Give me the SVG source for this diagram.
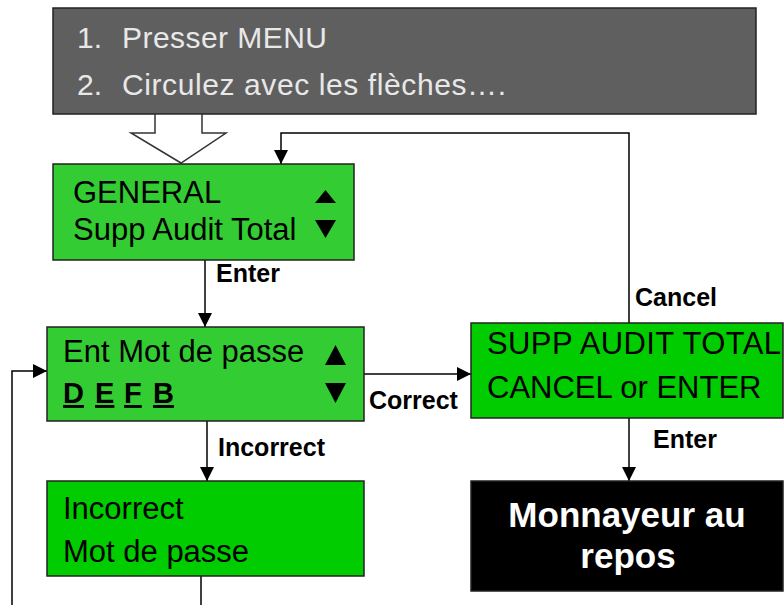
<svg xmlns="http://www.w3.org/2000/svg" width="784" height="605" viewBox="0 0 784 605">
<defs>
<marker id="ah" markerUnits="userSpaceOnUse" markerWidth="14" markerHeight="14" refX="14" refY="7" orient="auto">
<path d="M0,0 L14,7 L0,14 z" fill="#000"/>
</marker>
<style>
.box{stroke:#222;stroke-width:1.5}
.g1{fill:#33cc33}
.g2{fill:#00cc00}
.t{font-family:"Liberation Sans",Arial,sans-serif;font-size:31px;fill:#000}
.w{font-family:"Liberation Sans",Arial,sans-serif;font-size:30px;fill:#e8e8e8}
.lbl{font-family:"Liberation Sans",Arial,sans-serif;font-size:25px;font-weight:bold;fill:#000}
.big{font-family:"Liberation Sans",Arial,sans-serif;font-size:35px;font-weight:bold;fill:#fff;text-anchor:middle}
.con{fill:none;stroke:#000;stroke-width:1.5}
.tri{fill:#000}
.u{font-family:"Liberation Sans",Arial,sans-serif;font-size:29px;font-weight:bold;text-decoration:underline;fill:#000}
</style>
</defs>
<rect width="784" height="605" fill="#fff"/>

<g id="instructions">
<rect x="53" y="8" width="703" height="106" fill="#5f5f5f" stroke="#222" stroke-width="1.5"/>
<text class="w" x="77" y="48">1.</text>
<text class="w" x="122" y="48" textLength="205">Presser MENU</text>
<text class="w" x="77" y="95">2.</text>
<text class="w" x="122" y="95" textLength="384">Circulez avec les flèches….</text>
<polygon points="155,114 202,114 202,133 226,133 181,163 131,133 155,133" fill="#fff" stroke="#333" stroke-width="1.5"/>
</g>

<g id="connectors">
<path class="con" d="M629,323 V133 H281 V164" marker-end="url(#ah)"/>
<path class="con" d="M205,260 V327" marker-end="url(#ah)"/>
<path class="con" d="M364,374 H471" marker-end="url(#ah)"/>
<path class="con" d="M207,421 V481" marker-end="url(#ah)"/>
<path class="con" d="M629,418 V481" marker-end="url(#ah)"/>
<path class="con" d="M12,605 V371 H47" marker-end="url(#ah)"/>
<path class="con" d="M201,576 V605"/>
<text class="lbl" x="216" y="282">Enter</text>
<text class="lbl" x="369" y="409">Correct</text>
<text class="lbl" x="218" y="456">Incorrect</text>
<text class="lbl" x="635" y="306">Cancel</text>
<text class="lbl" x="653" y="448">Enter</text>
</g>

<g id="general">
<rect class="box g1" x="53" y="164" width="301" height="96"/>
<text class="t" x="73" y="203">GENERAL</text>
<text class="t" x="73" y="240">Supp Audit Total</text>
<polygon class="tri" points="315,203 336,203 325.5,190"/>
<polygon class="tri" points="315,220 336,220 325.5,238"/>
</g>

<g id="password">
<rect class="box g1" x="47" y="327" width="317" height="94"/>
<text class="t" x="63" y="362">Ent Mot de passe</text>
<text class="u" x="63" y="403">D</text>
<text class="u" x="95" y="403">E</text>
<text class="u" x="124" y="403">F</text>
<text class="u" x="153" y="403">B</text>
<polygon class="tri" points="325,365 346,365 335.5,345"/>
<polygon class="tri" points="325,383 346,383 335.5,403"/>
</g>

<g id="incorrect">
<rect class="box g2" x="47" y="481" width="317" height="95"/>
<text class="t" x="63" y="519">Incorrect</text>
<text class="t" x="63" y="562">Mot de passe</text>
</g>

<g id="supp">
<rect class="box g2" x="471" y="323" width="312" height="95"/>
<text class="t" x="487" y="354" textLength="294">SUPP AUDIT TOTAL</text>
<text class="t" x="487" y="398">CANCEL or ENTER</text>
</g>

<g id="repos">
<rect x="471" y="481" width="312" height="110" fill="#000" stroke="#222" stroke-width="1.5"/>
<text class="big" x="627" y="527">Monnayeur au</text>
<text class="big" x="628" y="568">repos</text>
</g>
</svg>
